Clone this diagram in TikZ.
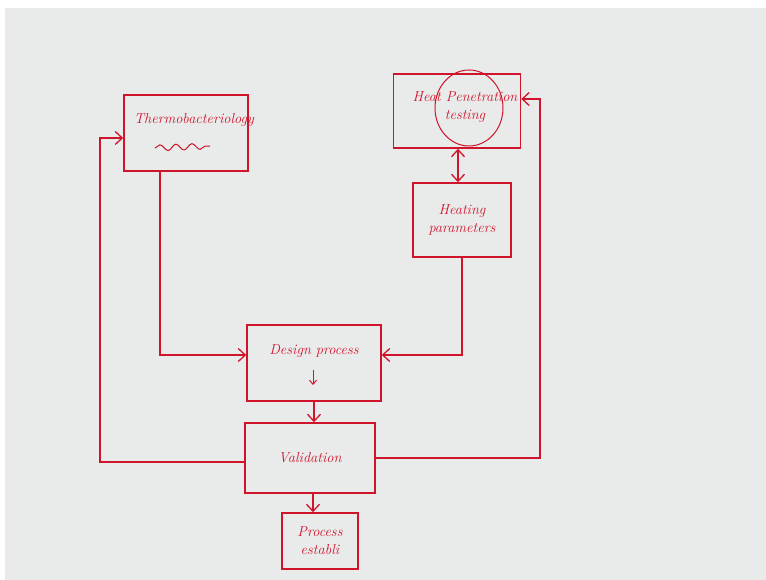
\documentclass[tikz,border=0pt]{standalone}
\usepackage{tikz}
\usetikzlibrary{arrows.meta,decorations.pathmorphing}
\definecolor{ink}{HTML}{D0142C}
\definecolor{board}{HTML}{E9EAEA}
\tikzstyle{stage} = [draw=ink, line width=1.6pt, text=ink, align=center, font=\itshape\Large, inner sep=2pt]
\tikzstyle{link} = [draw=ink, line width=1.3pt, -{Straight Barb[length=7pt,width=13pt]}]
\newcommand{\wiggle}{\draw [ink, line width=1pt, decorate, decoration={snake, amplitude=3pt, segment length=16pt}]}

\begin{document}
\begin{tikzpicture}[x=1pt, y=-1pt]%
			\useasboundingbox (0,0) rectangle (766,580);%
			\fill[white] (0,0) rectangle (766,580);%
			\fill[board] (5,8) rectangle (766,580);%
			% stages
			\node [stage, minimum width=124pt, minimum height=76pt] (thermo) at (186,133) {};%
			\node [text=ink, font=\itshape\Large] (thermotxt) at (194,120) {Thermobacteriology};%
			\wiggle (155,148) -- (210,146);%
			\node [stage, minimum width=127pt, minimum height=74pt] (heat) at (457,111) {};%
			\node [text=ink, font=\itshape\Large, align=center] (heattxt) at (465,107) {Heat Penetration\\testing};%
			\draw [ink, line width=1pt] (469,108) ellipse (34pt and 38pt);%
			\node [stage, minimum width=98pt, minimum height=74pt] (heating) at (462,220) {Heating\\parameters};%
			\node [stage, minimum width=134pt, minimum height=76pt, text depth=26pt] (design) at (314,363) {Design process};%
			\draw [ink, line width=1pt, -{Straight Barb[length=4pt,width=7pt]}] (313,370) -- (313,385);%
			\node [stage, minimum width=130pt, minimum height=70pt] (valid) at (310,458) {Validation};%
			\node [stage, minimum width=76pt, minimum height=56pt] (estab) at (320,541) {Process\\establi};%
			% links
			\draw [link] ([xshift=-26pt]thermo.south) |- ([yshift=8pt]design.west);%
			\draw [link] (heating.south) |- ([yshift=8pt]design.east);%
			\draw [link, {Straight Barb[length=7pt,width=13pt]}-{Straight Barb[length=7pt,width=13pt]}] ([xshift=-4pt]heating.north) -- ([xshift=-4pt]heating.north |- heat.south);%
			\draw [link] (design.south) -- (design.south |- valid.north);%
			\draw [link] ([xshift=3pt]valid.south) -- ([xshift=3pt]valid.south |- estab.north);%
			\coordinate (loopL) at (100,300);%
			\coordinate (loopR) at (540,300);%
			\draw [link] ([yshift=-4pt]valid.west) -| (loopL) |- ([yshift=-5pt]thermo.west);%
			\draw [link] (valid.east) -| (loopR) |- ([yshift=12pt]heat.east);%
		\end{tikzpicture}
\end{document}
